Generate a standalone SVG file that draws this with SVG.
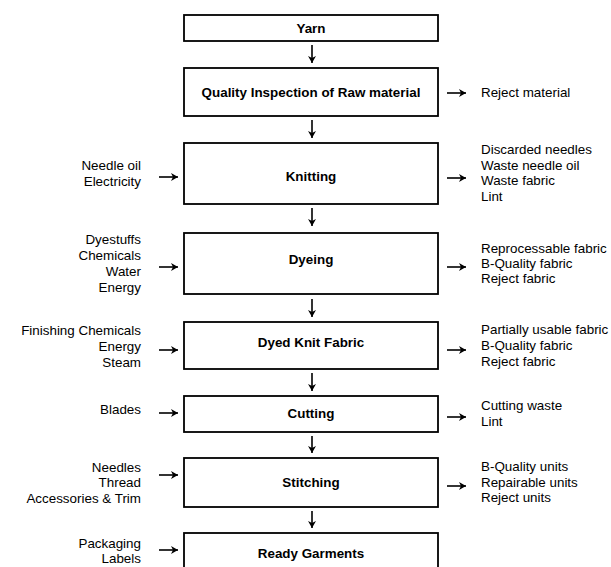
<svg xmlns="http://www.w3.org/2000/svg" width="611" height="567" viewBox="0 0 611 567">
<style>
.box{fill:#fff;stroke:#000;stroke-width:1.8}
.lbl{font-family:"Liberation Sans",Arial,sans-serif;font-size:13.4px;font-weight:bold;text-anchor:middle;fill:#000}
.side{font-family:"Liberation Sans",Arial,sans-serif;font-size:13.4px;fill:#000}
.l{text-anchor:end}
.conn{stroke:#000;stroke-width:1.6;fill:none;marker-end:url(#ah)}
</style>
<defs>
<marker id="ah" markerUnits="userSpaceOnUse" markerWidth="10" markerHeight="10" viewBox="-1 -5 10 10" refX="7" refY="0" orient="auto">
<path d="M0,-4 L7,0 L0,4 L2,0 Z" fill="#000"/>
</marker>
</defs>
<rect width="611" height="567" fill="#fff"/>
<g id="yarn"><rect class="box" x="184" y="15" width="254" height="26"/><text class="lbl" x="311" y="32.5">Yarn</text></g>
<g id="quality"><rect class="box" x="184" y="68" width="254" height="48"/><text class="lbl" x="311" y="97">Quality Inspection of Raw material</text></g>
<g id="knitting"><rect class="box" x="184" y="143" width="254" height="61"/><text class="lbl" x="311" y="181">Knitting</text></g>
<g id="dyeing"><rect class="box" x="184" y="233" width="254" height="61"/><text class="lbl" x="311" y="263.5">Dyeing</text></g>
<g id="dyedknit"><rect class="box" x="184" y="322" width="254" height="47"/><text class="lbl" x="311" y="347">Dyed Knit Fabric</text></g>
<g id="cutting"><rect class="box" x="184" y="396" width="254" height="36"/><text class="lbl" x="311" y="418">Cutting</text></g>
<g id="stitching"><rect class="box" x="184" y="458" width="254" height="49"/><text class="lbl" x="311" y="487">Stitching</text></g>
<g id="ready"><rect class="box" x="184" y="533" width="254" height="40"/><text class="lbl" x="311" y="558">Ready Garments</text></g>

<g id="in-knitting" class="side l"><text x="141" y="169.5">Needle oil</text><text x="141" y="186">Electricity</text></g>
<g id="in-dyeing" class="side l"><text x="141" y="243.5">Dyestuffs</text><text x="141" y="259.5">Chemicals</text><text x="141" y="275.5">Water</text><text x="141" y="291.5">Energy</text></g>
<g id="in-dyedknit" class="side l"><text x="141" y="334.5">Finishing Chemicals</text><text x="141" y="350.5">Energy</text><text x="141" y="366.5">Steam</text></g>
<g id="in-cutting" class="side l"><text x="141" y="413.5">Blades</text></g>
<g id="in-stitching" class="side l"><text x="141" y="471.5">Needles</text><text x="141" y="487">Thread</text><text x="141" y="502.5">Accessories &amp; Trim</text></g>
<g id="in-ready" class="side l"><text x="141" y="547.5">Packaging</text><text x="141" y="563">Labels</text></g>

<g id="out-quality" class="side"><text x="481" y="96.5">Reject material</text></g>
<g id="out-knitting" class="side"><text x="481" y="154">Discarded needles</text><text x="481" y="169.5">Waste needle oil</text><text x="481" y="185">Waste fabric</text><text x="481" y="201">Lint</text></g>
<g id="out-dyeing" class="side"><text x="481" y="252.5">Reprocessable fabric</text><text x="481" y="267.5">B-Quality fabric</text><text x="481" y="282.5">Reject fabric</text></g>
<g id="out-dyedknit" class="side"><text x="481" y="333.5">Partially usable fabric</text><text x="481" y="349.5">B-Quality fabric</text><text x="481" y="365.5">Reject fabric</text></g>
<g id="out-cutting" class="side"><text x="481" y="409.5">Cutting waste</text><text x="481" y="425.5">Lint</text></g>
<g id="out-stitching" class="side"><text x="481" y="470.5">B-Quality units</text><text x="481" y="486.5">Repairable units</text><text x="481" y="501.5">Reject units</text></g>

<g id="connectors">
<path class="conn" d="M312,45 V63"/>
<path class="conn" d="M312,120 V138"/>
<path class="conn" d="M312,208 V226"/>
<path class="conn" d="M312,299 V317"/>
<path class="conn" d="M312,373 V391"/>
<path class="conn" d="M312,436 V453"/>
<path class="conn" d="M312,511 V528"/>
<path class="conn" d="M159,177 H178"/>
<path class="conn" d="M159,267 H178"/>
<path class="conn" d="M159,350 H178"/>
<path class="conn" d="M159,413 H178"/>
<path class="conn" d="M159,475 H178"/>
<path class="conn" d="M159,550 H178"/>
<path class="conn" d="M447,93 H466"/>
<path class="conn" d="M447,178 H466"/>
<path class="conn" d="M447,267 H466"/>
<path class="conn" d="M447,350 H466"/>
<path class="conn" d="M447,417 H466"/>
<path class="conn" d="M447,486 H466"/>
</g>
</svg>
